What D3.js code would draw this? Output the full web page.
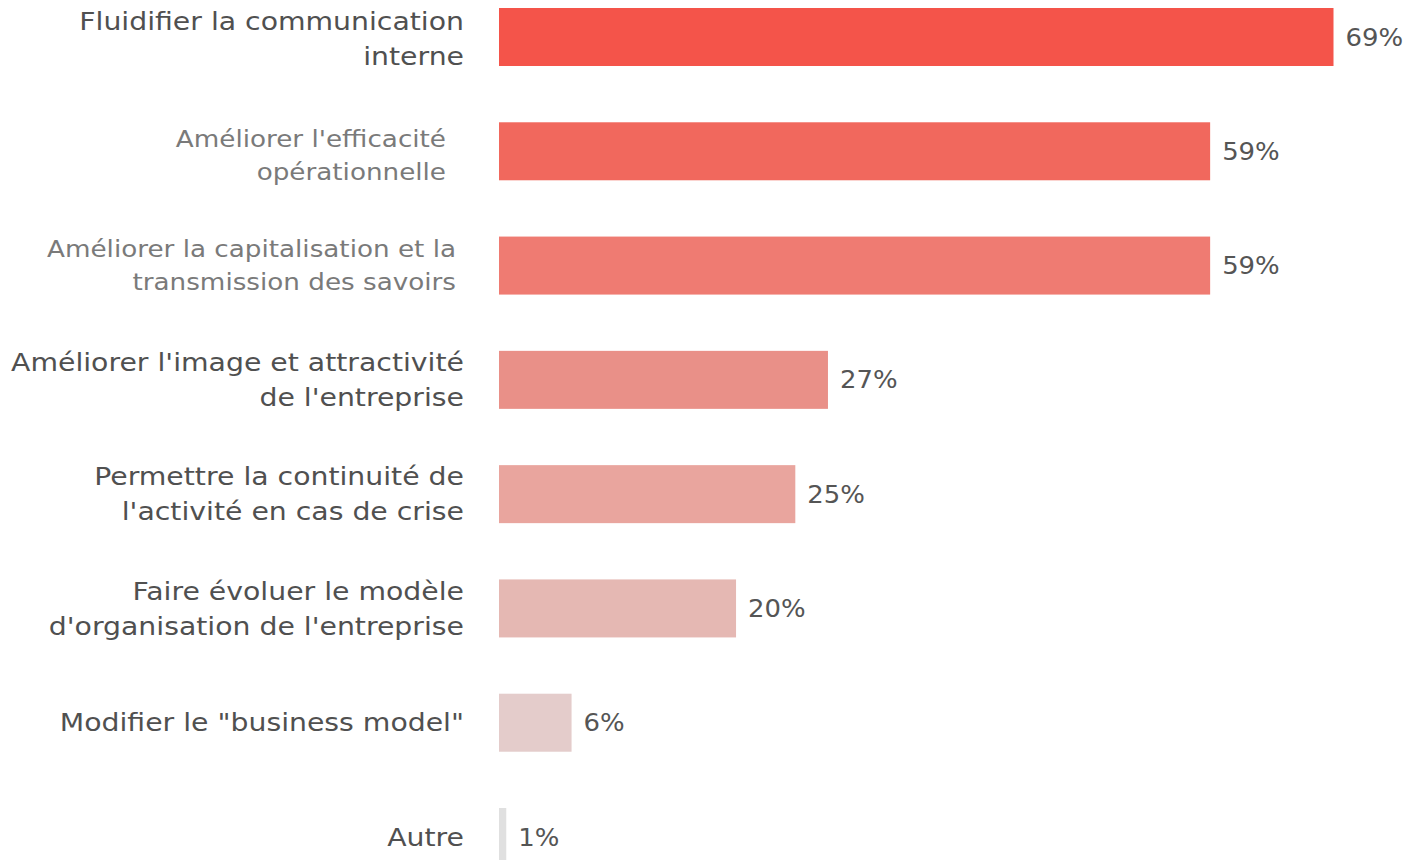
<!DOCTYPE html>
<html>
<head>
<meta charset="utf-8">
<script src="https://cdn.jsdelivr.net/npm/d3@7"></script>
<style>
html,body{margin:0;padding:0;background:#fff;}
svg{display:block;}
</style>
</head>
<body>
<svg id="chart" width="1407" height="860"></svg>
<script>
const categories = [
  ["Fluidifier la communication", "interne"],
  ["Améliorer l'efficacité", "opérationnelle"],
  ["Améliorer la capitalisation et la", "transmission des savoirs"],
  ["Améliorer l'image et attractivité", "de l'entreprise"],
  ["Permettre la continuité de", "l'activité en cas de crise"],
  ["Faire évoluer le modèle", "d'organisation de l'entreprise"],
  ["Modifier le \"business model\""],
  ["Autre"]
];
// bar lengths (labels are the rounded figures)
const values = [69, 58.8, 58.8, 27.2, 24.5, 19.6, 6.0, 0.6];
const valueLabels = ["69%", "59%", "59%", "27%", "25%", "20%", "6%", "1%"];
const barColors = ["#F4544A", "#F1685D", "#EF7B72", "#E99088", "#E9A59E", "#E5B8B3", "#E4CCCB", "#E0E0E0"];

const svg = d3.select("#chart");
const ids = categories.map((c, i) => i);

const x = d3.scaleLinear().domain([0, 69]).range([499, 1333.5]);
const y = d3.scaleBand().domain(ids).range([8, 866]).paddingInner(0.4925).paddingOuter(0);

svg.selectAll("rect.bar").data(ids).join("rect")
  .attr("class", "bar")
  .attr("x", x(0))
  .attr("y", i => y(i))
  .attr("width", i => x(values[i]) - x(0))
  .attr("height", y.bandwidth())
  .attr("fill", i => barColors[i]);

// wide geometric look of the original font: stretch DejaVu Sans horizontally
svg.selectAll("g.val").data(ids).join("g")
  .attr("class", "val")
  .attr("transform", i => `translate(${x(values[i]) + 12},0) scale(1.08,1)`)
  .append("text")
  .attr("x", 0)
  .attr("y", i => y(i) + y.bandwidth() / 2)
  .attr("dy", "0.36em")
  .attr("font-family", "'DejaVu Sans', sans-serif")
  .attr("font-size", 24)
  .attr("fill", "#555")
  .text(i => valueLabels[i]);

// two labels in the original look like pasted images: lighter, slightly shifted
const special = i => i === 1 || i === 2;
const labelRight = i => i === 1 ? 446 : (i === 2 ? 456 : 464);
const labelShift = i => i === 1 ? 4 : (i === 0 ? 1.5 : 0);
const labelFill = i => special(i) ? "#7a7a7a" : "#505050";

const lab = svg.selectAll("g.lab").data(ids).join("g")
  .attr("class", "lab")
  .attr("transform", i => `translate(${labelRight(i)},${labelShift(i)}) scale(${special(i) ? 1.14 : 1.18},1)`)
  .append("text")
  .attr("text-anchor", "end")
  .attr("font-family", "'DejaVu Sans', sans-serif")
  .attr("font-size", i => special(i) ? 23 : 24)
  .attr("fill", labelFill);

lab.each(function(i) {
  const lines = categories[i];
  const lh = special(i) ? 33 : 35;
  const t = d3.select(this);
  lines.forEach((ln, k) => {
    t.append("tspan")
      .attr("x", 0)
      .attr("y", y(i) + y.bandwidth() / 2 + (k - (lines.length - 1) / 2) * lh)
      .attr("dy", "0.36em")
      .text(ln);
  });
});
</script>
</body>
</html>
